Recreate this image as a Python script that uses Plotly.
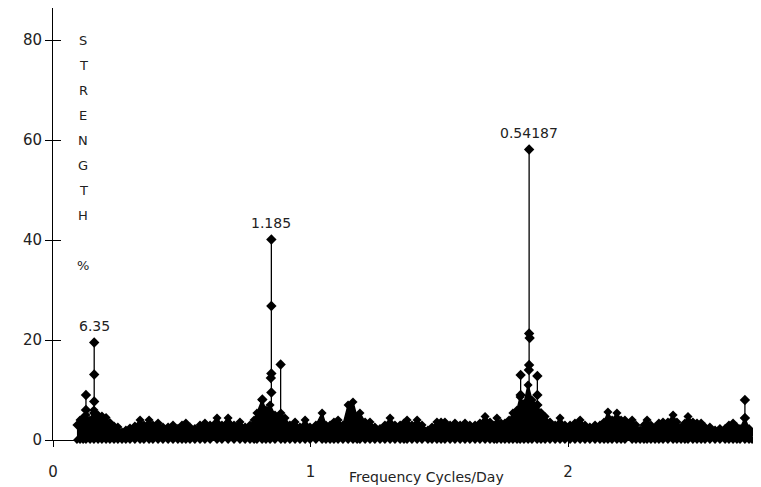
import plotly.graph_objects as go

# ---- data (frequency in cycles/day, strength in %) ----
env_freq = [0.093, 0.105, 0.117, 0.128, 0.144, 0.159, 0.175, 0.190, 0.206, 0.221,
            0.237, 0.252, 0.268, 0.283, 0.299, 0.318, 0.338, 0.353, 0.373, 0.388,
            0.408, 0.427, 0.447, 0.466, 0.485, 0.501, 0.516, 0.532, 0.551, 0.571,
            0.590, 0.610, 0.637, 0.656, 0.680, 0.703, 0.726, 0.746, 0.765, 0.781,
            0.792, 0.812, 0.827, 0.843, 0.862, 0.885, 0.901, 0.920, 0.940, 0.959,
            0.979, 0.998, 1.021, 1.045, 1.060, 1.076, 1.091, 1.107, 1.126, 1.146,
            1.165, 1.181, 1.192, 1.212, 1.231, 1.250, 1.270, 1.289, 1.309, 1.328,
            1.348, 1.363, 1.375, 1.394, 1.414, 1.433, 1.456, 1.472, 1.491, 1.507,
            1.522, 1.542, 1.561, 1.581, 1.600, 1.619, 1.639, 1.658, 1.678, 1.697,
            1.713, 1.724, 1.740, 1.755, 1.771, 1.786, 1.802, 1.814, 1.829, 1.845,
            1.860, 1.880, 1.895, 1.911, 1.930, 1.950, 1.969, 1.988, 2.008, 2.027,
            2.047, 2.066, 2.085, 2.105, 2.124, 2.140, 2.155, 2.171, 2.190, 2.206,
            2.221, 2.249, 2.264, 2.280, 2.295, 2.307, 2.322, 2.338, 2.353, 2.369,
            2.388, 2.408, 2.423, 2.439, 2.454, 2.466, 2.485, 2.501, 2.517, 2.532,
            2.551, 2.571, 2.590, 2.610, 2.625, 2.641, 2.656, 2.668, 2.687, 2.703,
            2.715]
env_strength = [3.0, 4.0, 4.5, 5.0, 4.0, 6.0, 5.0, 4.8, 4.5, 3.5,
                2.8, 2.6, 1.6, 2.0, 2.4, 2.8, 4.0, 3.0, 4.0, 3.0,
                3.4, 2.6, 2.6, 3.0, 2.3, 3.0, 3.4, 2.6, 2.3, 3.0,
                3.4, 3.0, 4.4, 3.0, 4.4, 3.0, 3.6, 2.6, 3.0, 4.0,
                5.4, 8.0, 6.0, 7.0, 5.0, 5.4, 4.4, 3.0, 3.6, 2.6,
                4.0, 2.6, 3.0, 5.4, 3.0, 3.0, 3.6, 4.0, 3.0, 7.0,
                7.6, 4.5, 5.4, 3.6, 3.6, 2.6, 2.3, 3.0, 4.4, 3.0,
                3.0, 3.4, 4.0, 3.0, 4.0, 3.0, 2.0, 2.6, 3.6, 3.6,
                3.6, 3.0, 3.4, 3.0, 3.4, 3.0, 3.0, 3.4, 4.7, 3.6,
                3.0, 4.4, 3.4, 3.4, 4.0, 5.4, 6.0, 8.6, 7.3, 11.0,
                8.0, 7.0, 5.5, 4.7, 3.6, 3.0, 4.4, 3.0, 3.0, 3.4,
                4.0, 3.0, 2.6, 3.0, 3.0, 3.6, 5.6, 4.0, 5.4, 4.0,
                4.0, 4.0, 3.0, 2.0, 3.0, 4.0, 3.0, 2.6, 3.4, 3.6,
                3.6, 5.0, 3.6, 2.6, 3.4, 4.7, 3.6, 3.4, 3.4, 2.6,
                2.6, 2.0, 2.3, 2.3, 3.0, 3.4, 2.6, 2.3, 4.4, 2.3,
                1.5]

stem_freq = [0.128, 0.160, 0.813, 0.848, 0.884, 1.816, 1.849, 1.881, 2.687]
stem_strength = [9.0, 19.5, 8.1, 40.1, 15.1, 13.0, 58.1, 12.8, 8.0]

extra_freq = [0.128, 0.160, 0.160, 0.160, 0.848, 0.848, 0.846, 0.848,
              1.849, 1.851, 1.849, 1.848, 1.816, 1.881, 1.881, 2.687]
extra_strength = [6.0, 13.1, 7.7, 5.4, 26.8, 13.3, 12.4, 9.5,
                  21.3, 20.4, 15.0, 14.0, 9.0, 9.0, 7.0, 4.4]

peak_labels = ["6.35", "1.185", "0.54187"]
peak_label_freq = [0.160, 0.848, 1.849]
peak_label_strength = [19.5, 40.1, 58.1]

y_ticks = [0, 20, 40, 60, 80]
x_ticks = [0, 1, 2]
y_title_letters = ["S", "T", "R", "E", "N", "G", "T", "H", "", "%"]

FONT = "DejaVu Sans"
TXT = "#222222"

fig = go.Figure()

# dense noise floor
fig.add_trace(go.Scatter(
    x=env_freq, y=env_strength, mode="lines+markers", fill="tozeroy",
    fillcolor="black", line=dict(color="black", width=1.5),
    marker=dict(symbol="diamond", size=7, color="black"),
    cliponaxis=False, showlegend=False, hoverinfo="skip"))
fig.add_trace(go.Scatter(
    x=env_freq, y=[0] * len(env_freq), mode="markers",
    marker=dict(symbol="diamond", size=6, color="black"),
    cliponaxis=False, showlegend=False, hoverinfo="skip"))

# stems
sx, sy = [], []
for f, v in zip(stem_freq, stem_strength):
    sx += [f, f, None]
    sy += [0, v, None]
fig.add_trace(go.Scatter(x=sx, y=sy, mode="lines",
                         line=dict(color="black", width=1.3),
                         showlegend=False, hoverinfo="skip"))
fig.add_trace(go.Scatter(x=stem_freq + extra_freq, y=stem_strength + extra_strength,
                         mode="markers",
                         marker=dict(symbol="diamond", size=8, color="black"),
                         cliponaxis=False, showlegend=False))

# invisible trace for the tick-overlay axis
fig.add_trace(go.Scatter(x=[0], y=[0], yaxis="y2", mode="markers",
                         marker=dict(opacity=0), showlegend=False, hoverinfo="skip"))

annotations = []
for t, f, v in zip(peak_labels, peak_label_freq, peak_label_strength):
    annotations.append(dict(x=f, y=v, xref="x", yref="y", text=t, showarrow=False,
                            yshift=17, font=dict(family=FONT, size=14, color=TXT)))
for i, ch in enumerate(y_title_letters):
    if ch:
        annotations.append(dict(x=0.118, y=80 - 5 * i, xref="x", yref="y", text=ch,
                                showarrow=False,
                                font=dict(family=FONT, size=13, color=TXT)))
annotations.append(dict(x=1.449, y=-0.085, xref="x", yref="paper", yanchor="middle",
                        text="Frequency Cycles/Day",
                        showarrow=False, font=dict(family=FONT, size=14, color=TXT)))

# the page body adds an 8px offset, so the figure is sized to fit inside it
fig.update_layout(
    width=753, height=479,
    margin=dict(l=45, r=1, t=0, b=47, autoexpand=False),
    paper_bgcolor="white", plot_bgcolor="white",
    annotations=annotations,
    xaxis=dict(range=[0, 2.7456], tickvals=x_ticks, ticktext=[str(v) for v in x_ticks],
               showgrid=False, zeroline=False, showline=True, linecolor="black",
               linewidth=1, ticks="outside", ticklen=6, tickcolor="black",
               ticklabelstandoff=12, automargin=False,
               tickfont=dict(family=FONT, size=15, color=TXT)),
    yaxis=dict(range=[0, 86.4], tickvals=y_ticks, showgrid=False, zeroline=False,
               showline=True, linecolor="black", linewidth=1, ticks="outside",
               ticklen=7, tickcolor="black", automargin=False,
               tickfont=dict(family=FONT, size=15, color=TXT)),
    yaxis2=dict(range=[0, 86.4], overlaying="y", side="left", anchor="x",
                tickvals=y_ticks, showticklabels=False, showgrid=False,
                zeroline=False, showline=False, ticks="inside", ticklen=8,
                tickcolor="black", automargin=False),
)

fig.write_html("out.html")
